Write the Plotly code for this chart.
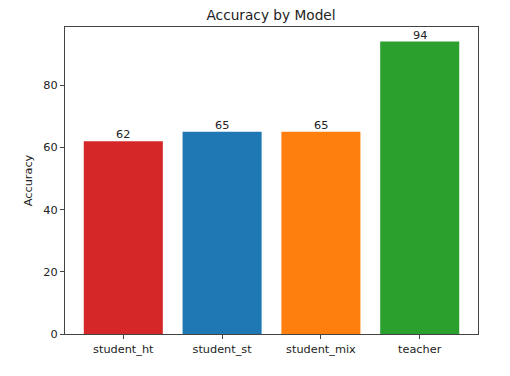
import plotly.graph_objects as go

models = ["student_ht", "student_st", "student_mix", "teacher"]
accuracy = [62, 65, 65, 94]
colors = ["#d62728", "#1f77b4", "#ff7f0e", "#2ca02c"]

x_idx = list(range(len(models)))
fig = go.Figure()
fig.add_trace(go.Bar(x=x_idx, y=accuracy, marker=dict(color=colors, line=dict(width=0)),
                     width=0.8, showlegend=False))

for xi, v in zip(x_idx, accuracy):
    fig.add_annotation(x=xi, y=v, text=str(v), showarrow=False, yanchor="bottom",
                       yshift=-2, font=dict(family="DejaVu Sans", size=11.3, color="#222"))

ymax = max(accuracy) * 1.05
fig.update_layout(
    width=502, height=368,
    margin=dict(l=57, r=32, t=19, b=42),
    paper_bgcolor="white", plot_bgcolor="white",
    font=dict(family="DejaVu Sans", size=11.3, color="#222"),
    title=dict(text="Accuracy by Model", x=0.524, xanchor="center", y=0.981, yanchor="middle",
               font=dict(size=13.7, color="#222")),
    bargap=0.2,
)
fig.update_xaxes(range=[-0.59, 3.59], tickmode="array", tickvals=x_idx, ticktext=models,
                 showline=True, linecolor="#444", linewidth=1, mirror=True,
                 ticks="outside", ticklen=4, tickcolor="#444", showgrid=False, zeroline=False)
fig.update_yaxes(range=[0, ymax], tickvals=[0, 20, 40, 60, 80],
                 showline=True, linecolor="#444", linewidth=1, mirror=True,
                 ticks="outside", ticklen=4, tickcolor="#444", showgrid=False, zeroline=False,
                 title=dict(text="Accuracy", standoff=8, font=dict(size=11.3)))

fig.write_html("out.html")
